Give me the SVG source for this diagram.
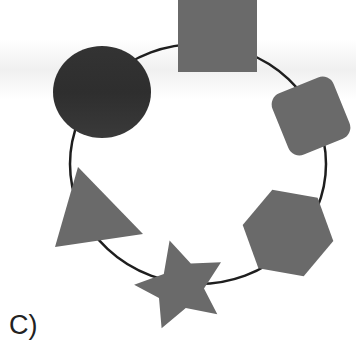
<svg xmlns="http://www.w3.org/2000/svg" width="356" height="348" viewBox="0 0 356 348">
<defs>
<linearGradient id="band" x1="0" y1="0" x2="0" y2="1">
<stop offset="0" stop-color="#ffffff"/>
<stop offset="0.5" stop-color="#f0f0f0"/>
<stop offset="1" stop-color="#ffffff"/>
</linearGradient>
<linearGradient id="dark" x1="0" y1="0" x2="0" y2="1">
<stop offset="0" stop-color="#333"/>
<stop offset="0.5" stop-color="#2e2e2e"/>
<stop offset="1" stop-color="#3a3a3a"/>
</linearGradient>
</defs>
<style>
.ring{fill:none;stroke:#1e1e1e;stroke-width:2.5}
.shape{fill:#6a6a6a}
.lbl{font-family:"Liberation Sans",Arial,sans-serif;font-size:27px;fill:#222}
</style>
<rect width="356" height="348" fill="#ffffff"/>
<rect x="0" y="40" width="356" height="60" fill="url(#band)"/>
<g id="connectors">
<ellipse class="ring" cx="198" cy="164" rx="128" ry="120"/>
</g>
<g id="square"><rect class="shape" x="178" y="-2" width="79" height="74" fill="#666"/></g>
<g id="circle"><ellipse cx="102" cy="92" rx="49" ry="46" fill="url(#dark)"/></g>
<g id="rounded-square"><rect class="shape" x="-33" y="-33" width="66" height="66" rx="12" transform="translate(311,116) rotate(-22)" fill="#6b6b6b"/></g>
<g id="triangle"><polygon class="shape" points="78,167 55,247 143,234" fill="#707070"/></g>
<g id="star"><polygon class="shape" fill="#6c6c6c" points="169.6,240.4 190.8,263.5 221.0,262.2 204.0,288.5 217.3,314.3 185.8,308.0 161.6,328.3 159.0,297.9 134.1,284.7 163.8,274.1"/></g>
<g id="hexagon"><polygon class="shape" fill="#5e5e5e" points="272.3,189.8 317.6,197.8 333.3,241.0 303.7,276.2 258.4,268.2 242.7,225.0"/></g>
<text class="lbl" x="9" y="334">C)</text>
</svg>
